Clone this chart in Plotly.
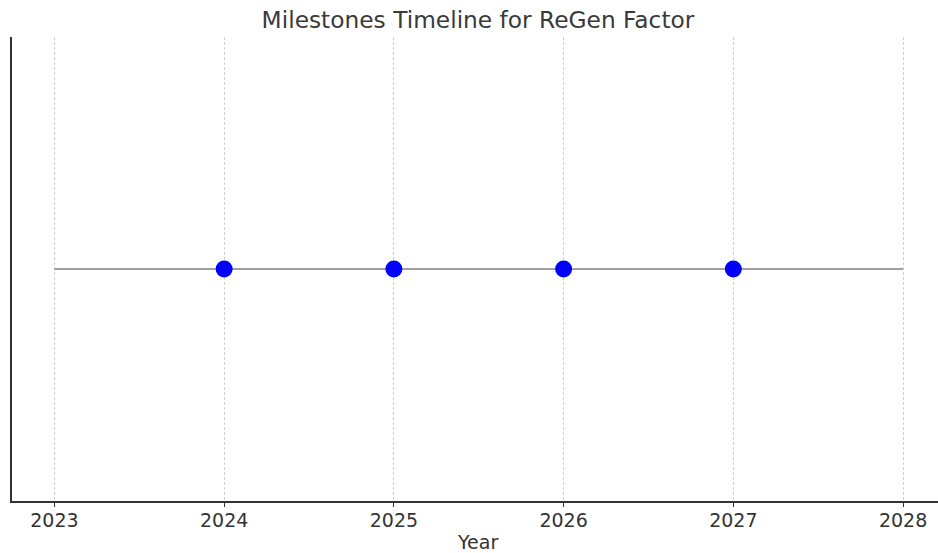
import plotly.graph_objects as go

years = [2024, 2025, 2026, 2027]
levels = [0, 0, 0, 0]
line_years = [2023, 2028]
line_levels = [0, 0]
tick_years = [2023, 2024, 2025, 2026, 2027, 2028]
tick_labels = ["2023", "2024", "2025", "2026", "2027", "2028"]

W, H = 938, 553
ML, MT, MB = 12, 37, 52
plot_h = H - MT - MB
plot_w = W - ML

fig = go.Figure()
fig.add_trace(go.Scatter(x=line_years, y=line_levels, mode="lines",
                         line=dict(color="#808080", width=1.4), hoverinfo="skip", showlegend=False))
fig.add_trace(go.Scatter(x=years, y=levels, mode="markers",
                         marker=dict(color="#0000ff", size=17, line=dict(width=0)), showlegend=False))

fig.update_layout(
    width=W, height=H,
    margin=dict(l=ML, r=0, t=MT, b=MB, pad=0),
    paper_bgcolor="white", plot_bgcolor="white",
    font=dict(family="DejaVu Sans", color="#333333"),
    title=dict(text="Milestones Timeline for ReGen Factor", x=(478 - ML) / plot_w, xanchor="center",
               xref="paper",
               y=1 - 19.5 / H, yanchor="middle", font=dict(size=23.3, color="#3a3a3a")),
    xaxis=dict(
        range=[2022.75, 2028 + 35 / 170], tickvals=tick_years, ticktext=tick_labels,
        showgrid=True, gridcolor="#d0d0d0", griddash="3px,2px", gridwidth=0.9,
        showline=True, linecolor="#333333", linewidth=1.6, mirror=False,
        ticks="outside", ticklen=4, tickcolor="#333333", tickwidth=1,
        ticklabelstandoff=-3,
        tickfont=dict(size=19, color="#333333"), zeroline=False,
    ),
    yaxis=dict(
        range=[-1, 1], showticklabels=False, showgrid=False, zeroline=False,
        showline=True, linecolor="#333333", linewidth=1.6, ticks="",
    ),
    annotations=[dict(text="Year", xref="paper", yref="paper", x=(478 - ML) / plot_w, y=-41 / plot_h,
                      xanchor="center", yanchor="middle", showarrow=False,
                      font=dict(size=19, color="#333333"))],
)

fig.write_html(
    "out.html",
    config={"displayModeBar": False},
    post_script="document.body.style.margin='0';document.body.style.overflow='hidden';",
)
